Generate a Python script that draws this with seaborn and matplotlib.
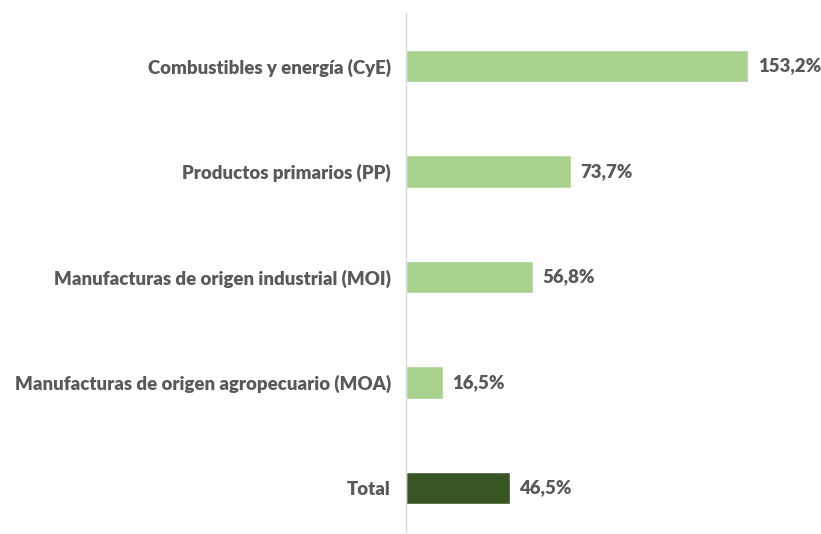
import matplotlib.pyplot as plt
import seaborn as sns
import pandas as pd

# datos
categorias = ['Combustibles y energía (CyE)', 'Productos primarios (PP)',
              'Manufacturas de origen industrial (MOI)',
              'Manufacturas de origen agropecuario (MOA)', 'Total']
variacion = [153.2, 73.7, 56.8, 16.5, 46.5]
etiquetas = ['153,2%', '73,7%', '56,8%', '16,5%', '46,5%']
colores = ['#A9D18E', '#A9D18E', '#A9D18E', '#A9D18E', '#375623']

df = pd.DataFrame({'categoria': categorias, 'valor': variacion})

sns.set_style('white')
plt.rcParams['font.family'] = ['Lato', 'DejaVu Sans']
gris = '#595959'
tam = 13.4

fig = plt.figure(figsize=(8.21, 5.34), dpi=100)
# eje vertical en x=406, barras separadas ~105.5 px
ax = fig.add_axes([406 / 821, (534 - 540.75) / 534, 400 / 821, 527.5 / 534])

sns.barplot(data=df, y='categoria', x='valor', hue='categoria',
            palette=colores, legend=False, width=0.31, saturation=1,
            ax=ax, orient='h')

for i, (v, t) in enumerate(zip(variacion, etiquetas)):
    ax.text(v + 4.3, i, t, va='center', ha='left', fontsize=tam,
            fontweight='heavy', color=gris)

ax.set_xlim(0, 179)
ax.set_ylim(4.5, -0.5)
ax.set_xlabel('')
ax.set_ylabel('')
ax.set_xticks([])
ax.tick_params(axis='y', length=0, pad=11)
for lab in ax.get_yticklabels():
    lab.set_fontsize(tam)
    lab.set_fontweight('heavy')
    lab.set_color(gris)

for s in ['top', 'right', 'bottom']:
    ax.spines[s].set_visible(False)
ax.spines['left'].set_color('#D9D9D9')
ax.spines['left'].set_linewidth(1)
ax.spines['left'].set_bounds(-0.5, 4.42)

fig.savefig('out.png', dpi=100)
